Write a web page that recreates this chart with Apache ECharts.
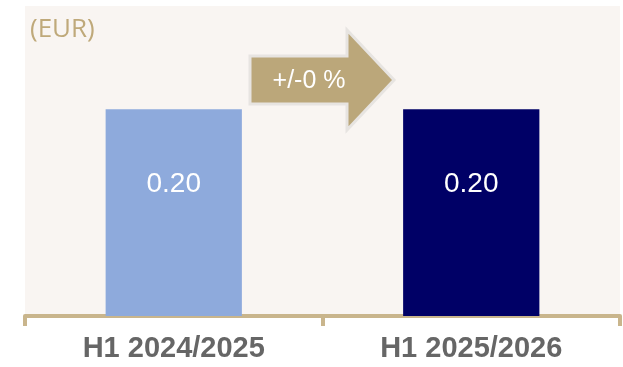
<!DOCTYPE html>
<html>
<head>
<meta charset="utf-8">
<script src="https://cdn.jsdelivr.net/npm/echarts@6/dist/echarts.min.js"></script>
<style>
html,body{margin:0;padding:0;background:#ffffff;}
#main{width:623px;height:367px;}
</style>
</head>
<body>
<div id="main"></div>
<script>
const categories = ['H1 2024/2025', 'H1 2025/2026'];
const values = [0.20, 0.20];
const barColors = ['#8eaadc', '#000066'];
const unitLabel = '(EUR)';
const changeLabel = '+/-0 %';

const chart = echarts.init(document.getElementById('main'), null, {renderer: 'canvas'});
chart.setOption({
  animation: false,
  backgroundColor: '#ffffff',
  grid: {left: 25, right: 3, top: 6, bottom: 51, show: true, backgroundColor: '#f9f5f2', borderWidth: 0},
  xAxis: {
    type: 'category',
    data: categories,
    axisLine: {show: true, lineStyle: {color: '#c9b58c', width: 4}},
    axisTick: {show: true, length: 10, interval: 0, lineStyle: {color: '#c9b58c', width: 4}},
    axisLabel: {color: '#666666', fontFamily: 'Liberation Sans, Arial, sans-serif', fontWeight: 'bold', fontSize: 29, margin: 18}
  },
  yAxis: {type: 'value', min: 0, max: 0.3, show: false, splitLine: {show: false}},
  series: [{
    type: 'bar',
    barWidth: '45.8%',
    data: values.map((v, i) => ({value: v, itemStyle: {color: barColors[i]}})),
    label: {
      show: true, position: ['50%', 75], align: 'center', verticalAlign: 'middle', color: '#ffffff',
      fontFamily: 'Liberation Sans, Arial, sans-serif', fontSize: 28,
      formatter: p => p.value.toFixed(2)
    }
  }],
  graphic: [
    {type: 'text', left: 30, top: 17, style: {text: unitLabel, fill: '#bfa97a', font: '26px "Open Sans", sans-serif'}},
    {type: 'polygon', shape: {points: [[250, 56], [347, 56], [347, 30], [394, 80], [347, 130], [347, 104], [250, 104]]},
     style: {fill: '#bba77a', stroke: '#e7e4e1', lineWidth: 3}},
    {type: 'text', x: 309, y: 81, style: {text: changeLabel, fill: '#ffffff', font: '25px "Liberation Sans", Arial, sans-serif', align: 'center', verticalAlign: 'middle'}}
  ]
});
</script>
</body>
</html>
